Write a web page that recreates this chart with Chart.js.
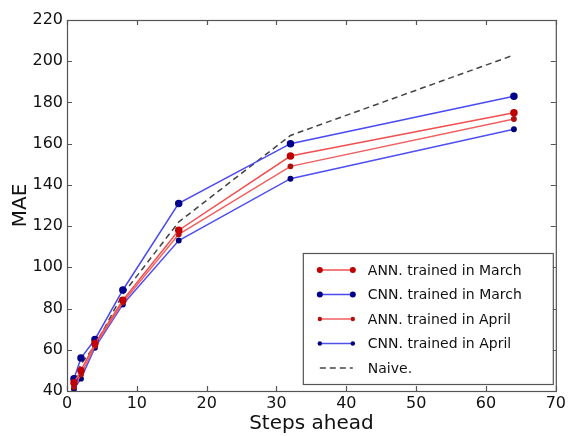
<!DOCTYPE html>
<html>
<head>
<meta charset="utf-8">
<script src="https://cdn.jsdelivr.net/npm/chart.js@4.4.1/dist/chart.umd.min.js"></script>
<style>
  html, body { margin: 0; padding: 0; background: #fff; }
  #wrap { position: relative; width: 569px; height: 436px; }
</style>
</head>
<body>
<div id="wrap"><canvas id="mae-chart" width="569" height="436"></canvas></div>
<script>
const steps = [1, 2, 4, 8, 16, 32, 64];
const annMarch = [44, 50, 63, 84, 118, 154, 175];
const cnnMarch = [46, 56, 65, 89, 131, 160, 183];
const annApril = [42, 48, 62, 83, 116, 149, 172];
const cnnApril = [41, 46, 61, 82, 113, 143, 167];
const naive = [45, 53, 62, 87, 122, 164, 203];
const xTicks = [0, 10, 20, 30, 40, 50, 60, 70];
const yTicks = [40, 60, 80, 100, 120, 140, 160, 180, 200, 220];

const toPoints = (vals) => steps.map((s, i) => ({ x: s, y: vals[i] }));

const series = [
  { label: "ANN. trained in March", data: annMarch, line: "#f05050", marker: "#c00000", radius: 3, dash: [] },
  { label: "CNN. trained in March", data: cnnMarch, line: "#4a4af0", marker: "#00008c", radius: 3, dash: [] },
  { label: "ANN. trained in April", data: annApril, line: "#f06060", marker: "#b01010", radius: 2.2, dash: [] },
  { label: "CNN. trained in April", data: cnnApril, line: "#5050f0", marker: "#00007a", radius: 2.2, dash: [] },
  { label: "Naive.", data: naive, line: "#444444", marker: "#444444", radius: 0, dash: [6, 4] },
];

const font = "'DejaVu Sans', sans-serif";

// matplotlib-like frame with inward ticks on all four sides
const framePlugin = {
  id: "frame",
  afterDraw(chart) {
    const { ctx, chartArea: a, scales } = chart;
    ctx.save();
    ctx.strokeStyle = "#555";
    ctx.lineWidth = 1.2;
    ctx.strokeRect(a.left + 0.5, a.top + 0.5, a.right - a.left, a.bottom - a.top);
    ctx.beginPath();
    xTicks.forEach((t) => {
      const px = Math.round(scales.x.getPixelForValue(t)) + 0.5;
      ctx.moveTo(px, a.bottom); ctx.lineTo(px, a.bottom - 5);
      ctx.moveTo(px, a.top); ctx.lineTo(px, a.top + 5);
    });
    yTicks.forEach((t) => {
      const py = Math.round(scales.y.getPixelForValue(t)) + 0.5;
      ctx.moveTo(a.left, py); ctx.lineTo(a.left + 5, py);
      ctx.moveTo(a.right, py); ctx.lineTo(a.right - 5, py);
    });
    ctx.stroke();
    ctx.restore();
  },
};

// legend box inside the plot, lower right
const legendPlugin = {
  id: "innerLegend",
  afterDraw(chart) {
    const { ctx, chartArea: a } = chart;
    const boxW = 250, boxH = 131;
    const bx = a.right - boxW - 3, by = a.bottom - boxH - 7;
    ctx.save();
    ctx.fillStyle = "#fff";
    ctx.fillRect(bx, by, boxW, boxH);
    ctx.strokeStyle = "#555";
    ctx.lineWidth = 1.2;
    ctx.strokeRect(bx + 0.5, by + 0.5, boxW, boxH);
    ctx.font = "14px " + font;
    ctx.textBaseline = "middle";
    series.forEach((s, i) => {
      const y = by + 17 + i * 24.5;
      const x0 = bx + 17, x1 = bx + 50;
      ctx.strokeStyle = s.line;
      ctx.lineWidth = 1.5;
      ctx.setLineDash(s.dash);
      ctx.beginPath();
      ctx.moveTo(x0, y); ctx.lineTo(x1, y);
      ctx.stroke();
      ctx.setLineDash([]);
      if (s.radius > 0) {
        ctx.fillStyle = s.marker;
        [x0, x1].forEach((mx) => {
          ctx.beginPath();
          ctx.arc(mx, y, s.radius, 0, Math.PI * 2);
          ctx.fill();
        });
      }
      ctx.fillStyle = "#111";
      ctx.fillText(s.label, bx + 65, y + 1);
    });
    ctx.restore();
  },
};

new Chart(document.getElementById("mae-chart").getContext("2d"), {
  type: "line",
  data: {
    datasets: series.map((s) => ({
      label: s.label,
      data: toPoints(s.data),
      borderColor: s.line,
      backgroundColor: s.marker,
      pointBackgroundColor: s.marker,
      pointBorderColor: s.marker,
      pointRadius: s.radius,
      borderWidth: 1.5,
      borderDash: s.dash,
      tension: 0,
      fill: false,
    })),
  },
  options: {
    responsive: false,
    animation: false,
    layout: { padding: { top: 20, right: 9, left: 9, bottom: 0 } },
    plugins: {
      legend: { display: false },
      tooltip: { enabled: false },
    },
    scales: {
      x: {
        type: "linear",
        min: 0,
        max: 70,
        afterBuildTicks: (scale) => { scale.ticks = xTicks.map((v) => ({ value: v })); },
        afterFit: (scale) => { scale.height = 45; },
        grid: { display: false, drawTicks: false },
        border: { display: false },
        ticks: { color: "#111", font: { family: font, size: 16 }, padding: 3, maxRotation: 0 },
        title: { display: true, text: "Steps ahead", color: "#111", font: { family: font, size: 20 }, padding: { top: 0, bottom: 0 } },
      },
      y: {
        min: 40,
        max: 220,
        afterBuildTicks: (scale) => { scale.ticks = yTicks.map((v) => ({ value: v })); },
        afterFit: (scale) => { scale.width = 58; },
        grid: { display: false, drawTicks: false },
        border: { display: false },
        ticks: { color: "#111", font: { family: font, size: 16 }, padding: 4 },
        title: { display: true, text: "MAE", color: "#111", font: { family: font, size: 20 }, padding: { top: 0, bottom: 0 } },
      },
    },
  },
  plugins: [framePlugin, legendPlugin],
});
</script>
</body>
</html>
